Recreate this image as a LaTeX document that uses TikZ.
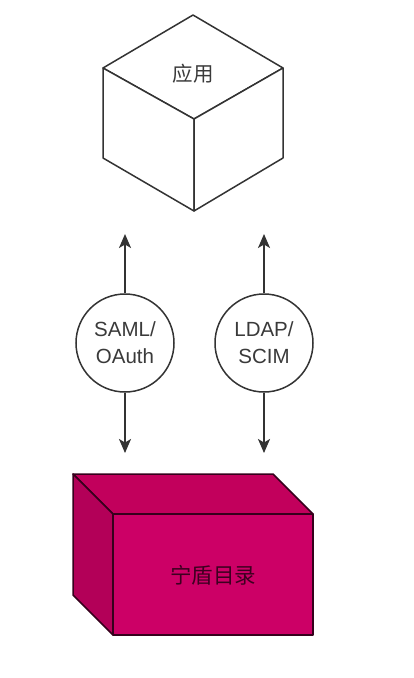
\documentclass[tikz,border=0pt]{standalone}
\usepackage{fontspec}
\setmainfont{Liberation Sans}
\newfontfamily\cjk{Noto Sans CJK SC}
\usetikzlibrary{arrows.meta,positioning,calc}
\definecolor{Canvas}{HTML}{FFFFFF}
\definecolor{Line}{HTML}{333333}
\definecolor{Ink}{HTML}{3A3A3A}
\definecolor{Front}{HTML}{CC0066}
\definecolor{TopFace}{HTML}{C2005C}
\definecolor{SideFace}{HTML}{B30058}
\definecolor{BoxLine}{HTML}{36001C}
\definecolor{BoxInk}{HTML}{3D0020}

\begin{document}
\begin{tikzpicture}[x=1pt,y=-1pt,>={Stealth[length=14pt,width=12pt,inset=3.5pt]}, face/.style={draw=Line,line width=1.5pt,line join=round,fill=white}, block/.style={draw=BoxLine,line width=1.5pt,line join=round}, proto/.style={circle,draw=Line,line width=1.5pt,fill=white,minimum size=98pt,inner sep=0pt,align=center,font=\fontsize{20.5}{27}\selectfont,text=Ink}, link/.style={->,draw=Line,line width=1.5pt}]
\fill[Canvas] (0,0) rectangle (414,678);
\useasboundingbox (0,0) rectangle (414,678);
% cube: application
\coordinate (ctop) at (193,15);
\coordinate (cl) at (103,68);
\coordinate (cr) at (283,68);
\coordinate (cmid) at (194,119);
\coordinate (clb) at (103,158);
\coordinate (crb) at (283,158);
\coordinate (cbot) at (194,211);
\draw[face] (ctop)--(cr)--(cmid)--(cl)--cycle;
\draw[face] (cl)--(cmid)--(cbot)--(clb)--cycle;
\draw[face] (cmid)--(cr)--(crb)--(cbot)--cycle;
\node[font=\cjk\fontsize{20.5}{24}\selectfont,text=Ink] (app) at (193,74) {应用};
% box: directory
\coordinate (bbl) at (73,474);
\coordinate (bbr) at (273,474);
\coordinate (bfl) at (113,514);
\coordinate (bfr) at (313,514);
\coordinate (bfbl) at (113,635);
\coordinate (bfbr) at (313,635);
\coordinate (bblb) at (73,595);
\draw[block,fill=TopFace] (bbl)--(bbr)--(bfr)--(bfl)--cycle;
\draw[block,fill=SideFace] (bbl)--(bfl)--(bfbl)--(bblb)--cycle;
\draw[block,fill=Front] (bfl)--(bfr)--(bfbr)--(bfbl)--cycle;
\node[font=\cjk\fontsize{21.5}{24}\selectfont,text=BoxInk] (dir) at (213,575) {宁盾目录};
% protocols
\node[proto] (saml) at (125,343) {SAML/\\OAuth};
\node[proto] (ldap) at (264,343) {LDAP/\\SCIM};
\coordinate (samlup) at (125,234);
\coordinate (samldn) at (125,453);
\coordinate (ldapup) at (264,234);
\coordinate (ldapdn) at (264,453);
\draw[link] (saml)--(samlup);
\draw[link] (saml)--(samldn);
\draw[link] (ldap)--(ldapup);
\draw[link] (ldap)--(ldapdn);
\end{tikzpicture}
\end{document}
